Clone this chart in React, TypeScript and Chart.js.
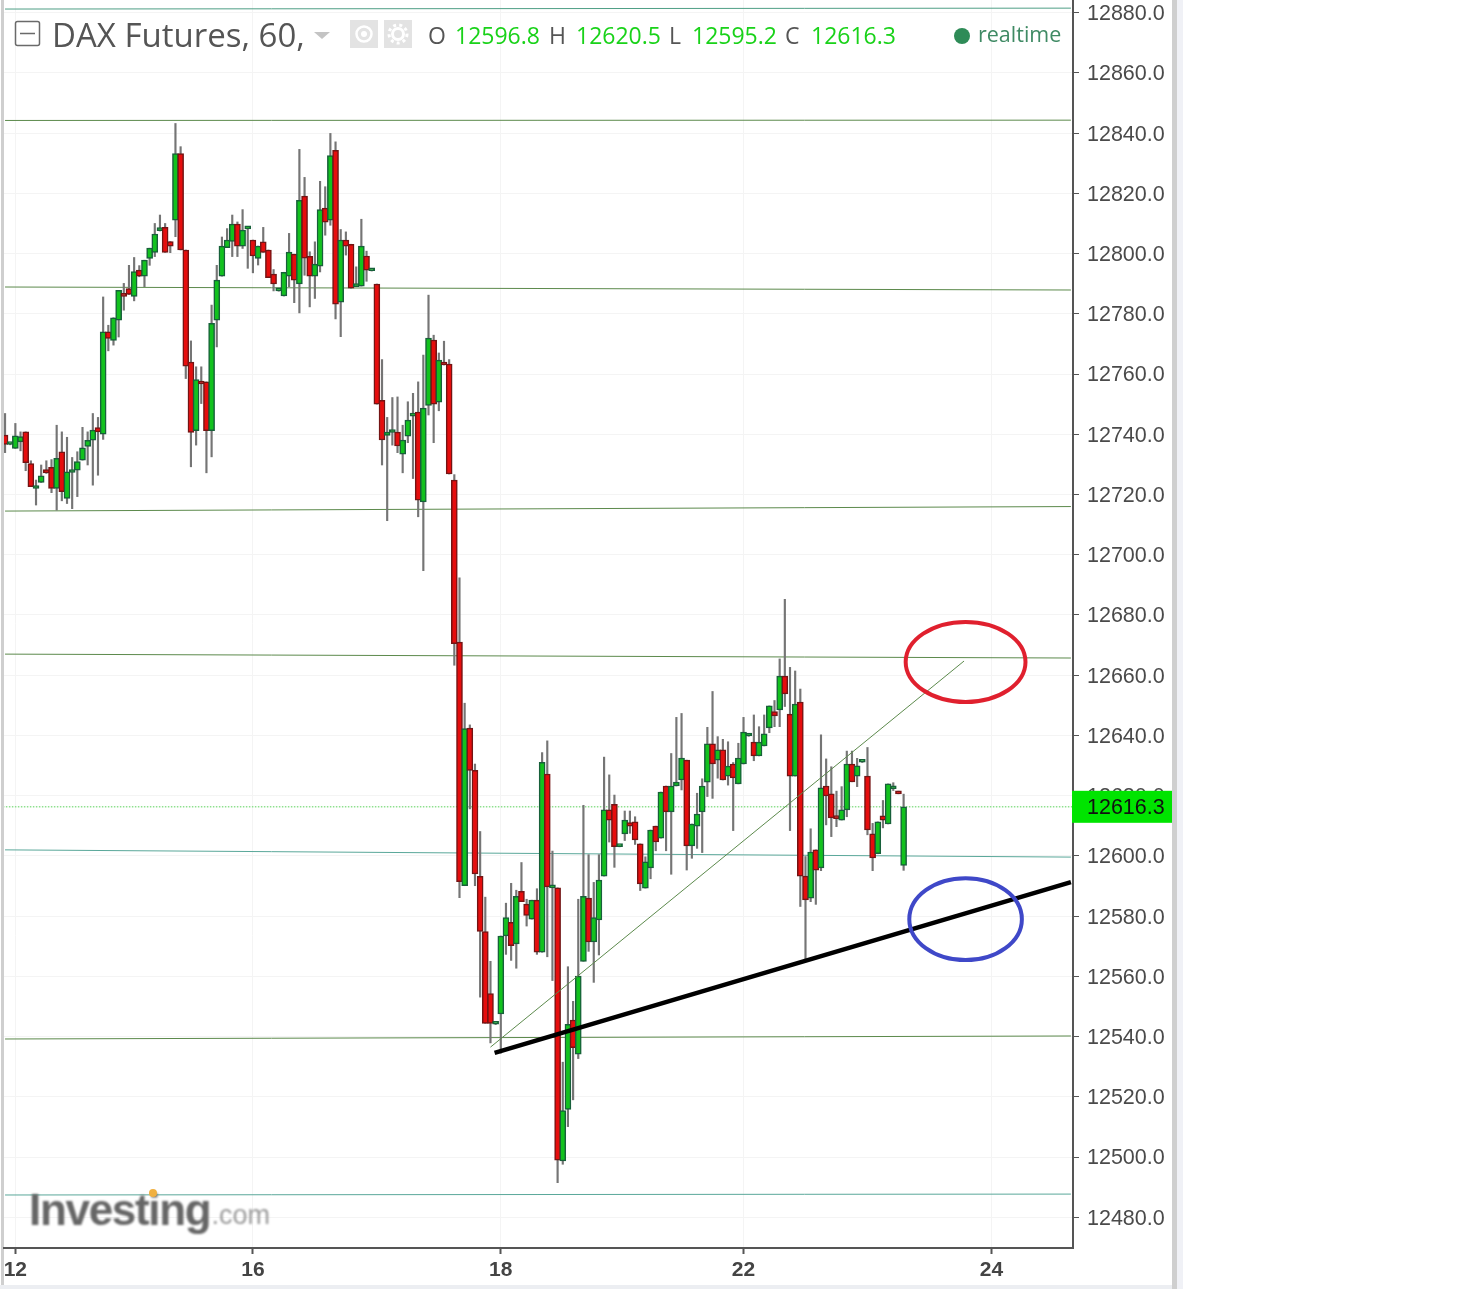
import React, { useEffect, useRef } from "react";
import { Chart, registerables } from "chart.js";

Chart.register(...registerables);

const opens = [
  12739.7,12736.6,12735.3,12737.5,12740.8,12730.3,12722,12724,12728.3,12729,
  12722,12734.2,12718.7,12727.3,12728.1,12731.4,12736,12738,12742.2,12740,
  12774,12771.2,12777.9,12786.7,12788.4,12785.8,12794.5,12792.5,12798.4,12800.4,
  12807.6,12808.7,12804,12811.1,12833.2,12801.2,12764,12741.2,12757.4,12757.4,
  12741.2,12777.9,12792.5,12802,12804,12809.8,12802.5,12808.2,12804.5,12798.4,
  12803.9,12801.2,12793.2,12787.6,12785.9,12792.5,12799.8,12789.9,12819.1,12799.1,
  12792.5,12795.8,12815.1,12811.1,12834.3,12783.9,12804.5,12803.1,12789,12789.2,
  12799.2,12794.3,12789.9,12751.3,12739.6,12740.6,12740.7,12733.4,12739.4,12746,
  12747.4,12717.5,12749.6,12771.3,12750.7,12763.3,12763.3,12724.8,12671,12590.1,
  12642.4,12628.4,12593.2,12574.9,12554.3,12544.1,12547.5,12573.4,12577.9,12570.8,
  12588.2,12584,12579,12585.3,12568,12627.2,12589.4,12589.4,12498.7,12515.8,
  12545.5,12534.2,12565,12586,12571.4,12578.7,12593.3,12615.3,12617.1,12603.1,
  12607.3,12611.1,12611.3,12604,12589.3,12596,12609.9,12605.9,12623.2,12614.6,
  12623.2,12625.2,12631.8,12603.3,12609.9,12614.6,12624.5,12637.2,12631.8,12635.2,
  12626.5,12630.5,12623.9,12630.5,12639.8,12637.8,12633.2,12636.5,12642.5,12647.9,
  12648.5,12659.7,12647.1,12626.5,12651.1,12593.3,12586,12602,12596,12623.2,
  12620.6,12612.7,12611.9,12615.3,12630.5,12626.5,12631.1,12626.5,12607.3,12600.7,
  12613.3,12610.6,12622.3,12621.5,12596.8,
];
const highs = [
  12746.9,12737,12743.6,12740.8,12740.8,12731.2,12724.8,12729.8,12731.2,12731.6,
  12743,12740.8,12739,12732.3,12734.2,12742.3,12740.8,12746.9,12745.6,12785.6,
  12776.2,12778.7,12787.8,12790.1,12796.1,12798.7,12796,12797.8,12801.8,12810,
  12812.8,12810,12804,12843.2,12835.5,12801.2,12771,12762.4,12762.4,12757.4,
  12782.9,12796.1,12805.5,12808.3,12812.8,12810.5,12814.6,12808.7,12804.5,12802.5,
  12808.7,12801.2,12794.7,12788,12793.8,12806.7,12799.8,12834.6,12825.3,12800.6,
  12803.9,12824,12822.2,12839.9,12837.1,12808,12807.2,12803.1,12795.6,12811.4,
  12800.8,12794.6,12789.9,12764.8,12745.6,12752.2,12752.4,12743,12750.8,12753.6,
  12757.4,12766.3,12786.2,12772.9,12767,12770.9,12764.8,12726.6,12692.3,12650.7,
  12643.5,12630.5,12608.1,12586.3,12565,12544.5,12573.4,12584.3,12590.9,12588.6,
  12597.8,12585.6,12585.3,12589.1,12634.3,12638.2,12601.6,12589.4,12531.5,12563.2,
  12551.7,12585.6,12616.8,12600.4,12591.2,12600.4,12632.8,12626.9,12620.2,12603.5,
  12614.9,12614.9,12613,12604,12599.7,12608.6,12609.9,12621.2,12623.2,12634,
  12646,12647.3,12631.8,12610.6,12620.8,12625.6,12642.7,12654.6,12639.6,12638.7,
  12637.9,12631,12637.4,12646,12640.3,12646.8,12642.9,12646.8,12649.8,12651.6,
  12665.4,12685.2,12662.6,12661.4,12655.4,12599.8,12609,12602,12640.2,12632.2,
  12629.6,12621.5,12623,12634.8,12634.8,12632.4,12631.4,12636,12610.8,12611.3,
  12618.4,12623.9,12624.3,12621.5,12620.5,
];
const lows = [
  12733.9,12736.5,12735.3,12734.5,12727.9,12722.6,12716.5,12724,12727,12720.6,
  12714.8,12717.9,12717,12715.3,12719.3,12731.4,12729.8,12723.1,12726.4,12738.3,
  12767.7,12769.6,12772.3,12781.2,12786.4,12784.3,12792.3,12789,12796.1,12799,
  12807.5,12800.4,12800.3,12805.6,12801.2,12758.5,12729.2,12736.4,12750.2,12727.2,
  12732.5,12769,12792.5,12802,12799,12799,12801.7,12795.1,12793.6,12796.2,
  12800.4,12792,12787.6,12787.5,12785.9,12789,12783.7,12780.3,12792.8,12782.3,
  12785.1,12793.9,12806.1,12809.4,12778.3,12772.4,12799.5,12788.5,12789,12789.2,
  12790.8,12794.2,12750,12729.8,12711.3,12736.4,12733.9,12727.2,12737.2,12725.3,
  12712.6,12694.7,12746.4,12737.2,12747.8,12763,12726.8,12663.3,12586.1,12590.1,
  12615.6,12590.1,12553.1,12544.4,12537.9,12544,12534.5,12567.3,12565.3,12562.7,
  12584.8,12576.7,12579,12567.3,12568,12566.5,12558.6,12491.5,12497.6,12510.1,
  12519,12532.7,12565,12568.3,12558,12567.1,12593.3,12604.6,12596.2,12603,
  12605.1,12607.5,12603.8,12588.5,12589.3,12592.4,12601.7,12605.9,12601.7,12593.9,
  12623.2,12621.9,12595.3,12599.2,12602.5,12601.1,12619.7,12619.1,12625.8,12625.2,
  12623.5,12608.4,12623.9,12630.5,12639.7,12631.6,12633.2,12636.5,12640.9,12642.9,
  12642.9,12649.6,12608.4,12626.5,12583.2,12565.5,12584.8,12583.9,12595.1,12610.3,
  12606.4,12609.7,12611.9,12613,12624.6,12623,12631,12607,12595.1,12600.7,
  12609.3,12610.6,12621.7,12620.6,12595.2,
];
const closes = [
  12736.6,12736.9,12739.5,12739.2,12730.6,12722.6,12722.9,12726.2,12727.2,12722,
  12732,12720.9,12727.5,12727.7,12730.9,12735.5,12738,12741.4,12740.8,12774,
  12771.8,12778.7,12787.8,12785.8,12786.4,12794,12792.5,12797.8,12801.8,12806.5,
  12808,12800.4,12802.5,12833.2,12801.2,12762.6,12740.6,12758.2,12756.7,12741.2,
  12776.8,12791.2,12802.5,12804.5,12809.8,12802.5,12807.8,12808.6,12799.2,12802.5,
  12800.4,12792,12789.9,12787.9,12793.8,12800.5,12791.2,12817.7,12798.5,12792.5,
  12796.5,12814.6,12810.4,12832.5,12783.2,12804.5,12802.5,12788.5,12789.2,12802.5,
  12794.5,12794.5,12750,12738.1,12740.7,12740.8,12736.1,12738.1,12744.7,12746.2,
  12718.1,12748.7,12771.9,12750,12764.6,12763,12726.8,12670.5,12591.4,12642.3,
  12628.4,12594,12574.9,12544.4,12544.4,12544.4,12573.4,12579.5,12570.2,12586.6,
  12584.8,12580.2,12585.3,12568,12631.1,12589.7,12589.7,12499,12515.4,12544.1,
  12536.3,12560.1,12586.6,12571.4,12579.5,12592,12615.3,12611.9,12603.1,12603.4,
  12611.9,12609.9,12605.3,12590.7,12598,12608.6,12604.6,12621.2,12614.6,12623.2,
  12624.5,12632.5,12603.3,12610.6,12613.9,12623.2,12637.2,12630.5,12635.2,12625.2,
  12629.8,12625.9,12632.5,12641.1,12640,12633.2,12637.8,12640.5,12649.8,12646.5,
  12659.7,12653.8,12626.5,12650.4,12593.3,12585.4,12601.3,12595.3,12622.6,12619.9,
  12612.6,12612.4,12615.3,12630.5,12624.6,12629.9,12631.3,12608.6,12599.3,12611.3,
  12611.9,12623.9,12622.5,12620.6,12616.3,
];

const xTickIndices = [2, 48, 96, 143, 191];
const xTickLabels = ["12", "16", "18", "22", "24"];
const yTicks = [12880, 12860, 12840, 12820, 12800, 12780, 12760, 12740, 12720, 12700, 12680, 12660, 12640, 12620, 12600, 12580, 12560, 12540, 12520, 12500, 12480];
const xStart = 0;
const xEnd = 206.4;

const levelLines = [
  { left: 12881.2, right: 12881.5, color: "#4f9f86" },
  { left: 12844.2, right: 12844.3, color: "#5c8a4c" },
  { left: 12788.9, right: 12787.9, color: "#5c8a4c" },
  { left: 12714.5, right: 12716, color: "#5c8a4c" },
  { left: 12667, right: 12665.7, color: "#5c8a4c" },
  { left: 12602, right: 12599.6, color: "#5aa89a" },
  { left: 12539.2, right: 12540.2, color: "#5c8a4c" },
  { left: 12487.4, right: 12487.7, color: "#5aa89a" },
];
const thinTrend = [{ x: 94, y: 12536.5 }, { x: 185.7, y: 12664.7 }];
const blackTrend = [{ x: 94.8, y: 12534.6 }, { x: 206.4, y: 12591.3 }];
const lastPrice = 12616.3;
const redEllipse = { x: 186, y: 12664.4, rx: 11.6, ry: 13.3 };
const blueEllipse = { x: 186, y: 12579, rx: 10.9, ry: 13.6 };

const title = "DAX Futures, 60,";
const ohlcLabels = ["O", "H", "L", "C"];
const ohlcValues = ["12596.8", "12620.5", "12595.2", "12616.3"];
const statusText = "realtime";
const logoMain = "Investing";
const logoSuffix = ".com";

const SANS = '"Liberation Sans", Arial, sans-serif';
const HEAD = '"Open Sans", "Noto Sans", sans-serif';

const decor = {
  id: "decor",
  beforeDraw(chart: any) {
    const { ctx, width, height } = chart;
    ctx.save();
    ctx.fillStyle = "#ffffff";
    ctx.fillRect(0, 0, width, height);
    ctx.fillStyle = "#cfcfcf";
    ctx.fillRect(1, 0, 3, 1285);
    ctx.fillRect(1172, 0, 5, 1289);
    ctx.fillStyle = "#f0f1f6";
    ctx.fillRect(1177, 0, 6, 1289);
    ctx.fillStyle = "#eceef2";
    ctx.fillRect(0, 1285, 1172, 4);
    ctx.restore();
  },
  afterDatasetsDraw(chart: any) {
    const { ctx, scales } = chart;
    const { x, y } = scales;
    const ring = (e: any, color: string) => {
      const cx = x.getPixelForValue(e.x);
      const cy = y.getPixelForValue(e.y);
      const rx = x.getPixelForValue(e.x + e.rx) - cx;
      const ry = cy - y.getPixelForValue(e.y + e.ry);
      ctx.beginPath();
      ctx.ellipse(cx, cy, rx, ry, 0, 0, Math.PI * 2);
      ctx.strokeStyle = color;
      ctx.lineWidth = 4;
      ctx.stroke();
    };
    ctx.save();
    ring(redEllipse, "#e0202e");
    ring(blueEllipse, "#3f48c8");

    // logo
    ctx.filter = "blur(0.9px)";
    ctx.textBaseline = "alphabetic";
    ctx.textAlign = "left";
    ctx.fillStyle = "#666666";
    ctx.font = `bold 44px ${SANS}`;
    ctx.letterSpacing = "-1.3px";
    ctx.fillText(logoMain, 29, 1225);
    const w = ctx.measureText(logoMain).width;
    ctx.letterSpacing = "0px";
    ctx.fillStyle = "#9a9a9a";
    ctx.font = `27px ${SANS}`;
    ctx.fillText(logoSuffix, 30 + w, 1224);
    ctx.filter = "none";
    ctx.fillStyle = "#f0b040";
    ctx.beginPath();
    ctx.arc(153, 1193, 4, 0, Math.PI * 2);
    ctx.fill();
    ctx.restore();
  },
  afterDraw(chart: any) {
    const { ctx, scales } = chart;
    const yPx = scales.y.getPixelForValue(lastPrice);
    ctx.save();
    // price badge
    ctx.fillStyle = "#00e400";
    ctx.fillRect(1072, yPx - 16, 100, 32);
    ctx.fillStyle = "#111111";
    ctx.font = `21.5px ${SANS}`;
    ctx.textAlign = "left";
    ctx.textBaseline = "middle";
    ctx.fillText(String(lastPrice), 1087, yPx + 1);

    // header
    ctx.strokeStyle = "#6a6a6a";
    ctx.lineWidth = 1.5;
    ctx.beginPath();
    ctx.roundRect(15.5, 21.5, 24, 24, 2);
    ctx.moveTo(20, 33.5);
    ctx.lineTo(35, 33.5);
    ctx.stroke();

    ctx.textBaseline = "alphabetic";
    ctx.fillStyle = "#555555";
    ctx.font = `33px ${HEAD}`;
    ctx.fillText(title, 52, 47);

    ctx.fillStyle = "#c4c4c4";
    ctx.beginPath();
    ctx.moveTo(314, 32);
    ctx.lineTo(330, 32);
    ctx.lineTo(322, 39);
    ctx.closePath();
    ctx.fill();

    ctx.fillStyle = "#e3e3e3";
    ctx.fillRect(350, 20, 28, 28);
    ctx.fillRect(384, 20, 28, 28);
    ctx.strokeStyle = "#ffffff";
    ctx.lineWidth = 2.5;
    ctx.beginPath();
    ctx.arc(364, 34, 7.5, 0, Math.PI * 2);
    ctx.stroke();
    ctx.fillStyle = "#ffffff";
    ctx.beginPath();
    ctx.arc(364, 34, 3, 0, Math.PI * 2);
    ctx.fill();
    ctx.lineWidth = 3;
    ctx.beginPath();
    ctx.arc(398, 34, 5.5, 0, Math.PI * 2);
    ctx.stroke();
    ctx.lineWidth = 3;
    ctx.setLineDash([3, 3.2]);
    ctx.beginPath();
    ctx.arc(398, 34, 9, 0, Math.PI * 2);
    ctx.stroke();
    ctx.setLineDash([]);

    const labelX = [428, 549, 669, 785];
    const valueX = [455, 576, 692, 811];
    ctx.font = `23px ${HEAD}`;
    ohlcLabels.forEach((t, i) => {
      ctx.fillStyle = "#555555";
      ctx.fillText(t, labelX[i], 44);
      ctx.fillStyle = "#19d219";
      ctx.fillText(ohlcValues[i], valueX[i], 44);
    });

    ctx.fillStyle = "#2e8b57";
    ctx.beginPath();
    ctx.arc(962, 36, 8, 0, Math.PI * 2);
    ctx.fill();
    ctx.fillStyle = "#3f8a64";
    ctx.font = `21.5px ${HEAD}`;
    ctx.fillText(statusText, 978, 42);
    ctx.restore();
  },
};

export default function App() {
  const ref = useRef<HTMLCanvasElement | null>(null);

  useEffect(() => {
    document.body.style.margin = "0";
    const idx = opens.map((_, i) => i);
    const isUp = (i: number) => closes[i] >= opens[i];

    const lineSets: any[] = levelLines.map((l) => ({
      type: "line",
      data: [{ x: xStart, y: l.left }, { x: xEnd, y: l.right }],
      borderColor: l.color,
      borderWidth: 1,
      pointRadius: 0,
      order: 5,
    }));
    lineSets.push({
      type: "line",
      data: [{ x: -1, y: lastPrice }, { x: 207, y: lastPrice }],
      borderColor: "#8fe08f",
      borderWidth: 1.5,
      borderDash: [1.5, 1.5],
      pointRadius: 0,
      order: 5,
    });
    lineSets.push({
      type: "line",
      data: thinTrend,
      borderColor: "#5c8a4c",
      borderWidth: 1,
      pointRadius: 0,
      order: 0,
    });
    lineSets.push({
      type: "line",
      data: blackTrend,
      borderColor: "#000000",
      borderWidth: 4.5,
      pointRadius: 0,
      order: 0,
    });

    const chart = new Chart(ref.current as HTMLCanvasElement, {
      type: "bar",
      data: {
        datasets: [
          ...lineSets,
          {
            type: "bar",
            data: idx.map((i) => ({ x: i, y: [lows[i], highs[i]] })),
            backgroundColor: "#757575",
            barThickness: 1.5,
            grouped: false,
            order: 3,
          },
          {
            type: "bar",
            data: idx.map((i) => ({ x: i, y: [opens[i], closes[i]] })),
            backgroundColor: idx.map((i) => (isUp(i) ? "#12c21e" : "#e60d0d")),
            borderColor: idx.map((i) => (isUp(i) ? "#17603a" : "#741414")),
            borderWidth: 1.5,
            borderSkipped: false,
            barThickness: 6,
            minBarLength: 3,
            grouped: false,
            order: 2,
          },
        ],
      } as any,
      plugins: [decor],
      options: {
        responsive: false,
        animation: false,
        devicePixelRatio: 1,
        layout: { padding: { left: 4, right: 0, top: 0, bottom: 0 } },
        plugins: { legend: { display: false }, tooltip: { enabled: false }, title: { display: false } },
        scales: {
          x: {
            type: "linear",
            offset: false,
            min: -0.2,
            max: 206.8,
            border: { display: true, color: "#555555", width: 2 },
            grid: { offset: false, color: "#f4f4f4", lineWidth: 1, tickColor: "#555555", tickLength: 6, tickWidth: 2 },
            ticks: {
              autoSkip: false,
              maxRotation: 0,
              padding: 4,
              color: "#444444",
              font: { family: "Liberation Sans", size: 21, weight: "bold" },
              callback: (v: any) => {
                const k = xTickIndices.indexOf(v);
                return k >= 0 ? xTickLabels[k] : "";
              },
            },
            afterBuildTicks: (s: any) => {
              s.ticks = xTickIndices.map((v) => ({ value: v }));
            },
            afterFit: (s: any) => {
              s.height = 41;
              s.paddingLeft = 0;
              s.paddingRight = 0;
            },
          },
          y: {
            position: "right",
            min: 12469.8,
            max: 12884.2,
            border: { display: true, color: "#555555", width: 2 },
            grid: { color: "#f4f4f4", lineWidth: 1, tickColor: "#555555", tickLength: 6, tickWidth: 1 },
            ticks: {
              autoSkip: false,
              padding: 8,
              labelOffset: 1.5,
              color: "#4a4a4a",
              font: { family: "Liberation Sans", size: 21.5 },
              callback: (v: any) => Number(v).toFixed(1),
            },
            afterBuildTicks: (s: any) => {
              s.ticks = yTicks.map((v) => ({ value: v }));
            },
            afterFit: (s: any) => {
              s.width = 398;
              s.paddingTop = 0;
              s.paddingBottom = 0;
            },
          },
        },
      } as any,
    });
    return () => chart.destroy();
  }, []);

  return (
    <canvas
      ref={ref}
      width={1471}
      height={1289}
      style={{ display: "block", width: 1471, height: 1289 }}
    />
  );
}
